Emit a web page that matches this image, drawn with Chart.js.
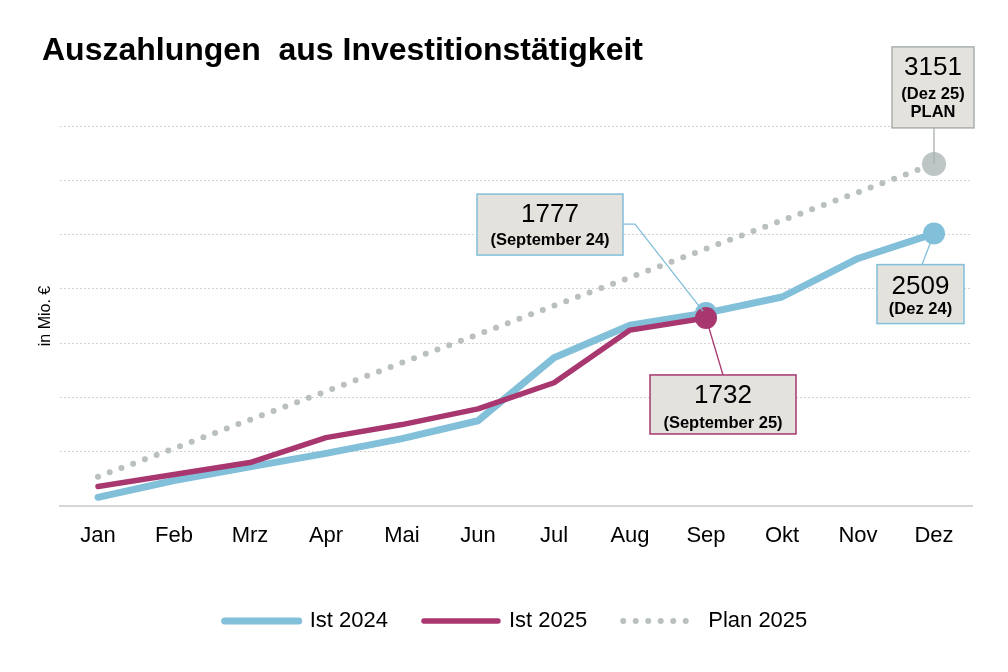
<!DOCTYPE html>
<html lang="de">
<head>
<meta charset="UTF-8">
<title>Auszahlungen aus Investitionstätigkeit</title>
<script src="https://cdn.jsdelivr.net/npm/chart.js@4.4.1/dist/chart.umd.min.js"></script>
<style>
  html, body { margin: 0; padding: 0; background: #fff; }
</style>
</head>
<body>
<canvas id="chart" width="1008" height="672"></canvas>
<script>
// Werte in Mio. €
const months   = ['Jan', 'Feb', 'Mrz', 'Apr', 'Mai', 'Jun', 'Jul', 'Aug', 'Sep', 'Okt', 'Nov', 'Dez'];
const ist2024  = [80, 235, 360, 485, 620, 785, 1365, 1665, 1777, 1925, 2280, 2509];
const ist2025  = [180, 290, 400, 630, 750, 895, 1135, 1620, 1732, null, null, null];
const plan2025 = [270, 530, 795, 1055, 1320, 1580, 1845, 2105, 2370, 2630, 2890, 3151];
const seriesNames = ['Ist 2024', 'Ist 2025', 'Plan 2025'];

const FONT = '"Liberation Sans", Arial, sans-serif';
const BLUE = '#82bfd9';
const RED = '#a8376f';
const GREY = '#b9c0bf';
const BOXFILL = '#e4e2dd';

// nur die markierten Punkte bekommen einen Kreis
function markers(arr, idx, r) {
    return arr.map((v, i) => idx.includes(i) ? r : 0);
}

// Beschriftungskästen mit Hinweislinie
const callouts = {
    id: 'callouts',
    afterDatasetsDraw(chart) {
        const { ctx, scales: { x, y } } = chart;
        const items = [
            { i: 8, v: ist2024[8], color: BLUE, lines: [String(ist2024[8]), '(September 24)'],
              box: (px, py) => [px - 229, py - 119, 146, 61],
              lead: (b, px, py) => [[b[0] + b[2], b[1] + 30], [b[0] + b[2] + 12, b[1] + 30], [px - 3, py - 2]],
              ty: [21, 46] },
            { i: 8, v: ist2025[8], color: RED, lines: [String(ist2025[8]), '(September 25)'],
              box: (px, py) => [px - 56, py + 57, 146, 59],
              lead: (b, px, py) => [[px + 17, b[1]], [px, py]],
              ty: [21, 48] },
            { i: 11, v: ist2024[11], color: BLUE, lines: [String(ist2024[11]), '(Dez 24)'],
              box: (px, py) => [px - 57, py + 31, 87, 59],
              lead: (b, px, py) => [[px - 12, b[1]], [px, py]],
              ty: [22, 45] },
            { i: 11, v: plan2025[11], color: '#a9afae', lines: [String(plan2025[11]), '(Dez 25)', 'PLAN'],
              box: (px, py) => [px - 42, py - 117, 82, 81],
              lead: (b, px, py) => [[px, b[1] + b[3]], [px, py]],
              ty: [21, 48, 66] }
        ];
        ctx.save();
        items.forEach(it => {
            const px = x.getPixelForValue(it.i);
            const py = y.getPixelForValue(it.v);
            const b = it.box(px, py);
            // Linie
            ctx.strokeStyle = it.color;
            ctx.lineWidth = 1.3;
            ctx.beginPath();
            it.lead(b, px, py).forEach((p, k) => k ? ctx.lineTo(p[0], p[1]) : ctx.moveTo(p[0], p[1]));
            ctx.stroke();
            // Kasten
            ctx.fillStyle = BOXFILL;
            ctx.fillRect(b[0], b[1], b[2], b[3]);
            ctx.lineWidth = 1.5;
            ctx.strokeRect(b[0], b[1], b[2], b[3]);
            // Text
            ctx.fillStyle = '#000';
            ctx.textAlign = 'center';
            ctx.textBaseline = 'middle';
            it.lines.forEach((t, k) => {
                ctx.font = k === 0 ? '26px ' + FONT : 'bold 16.5px ' + FONT;
                ctx.fillText(t, b[0] + b[2] / 2, b[1] + it.ty[k]);
            });
        });
        ctx.restore();
    }
};

new Chart(document.getElementById('chart'), {
    type: 'line',
    data: {
        labels: months,
        datasets: [
            {
                label: seriesNames[0],
                data: ist2024,
                borderColor: BLUE,
                backgroundColor: BLUE,
                borderWidth: 7,
                borderCapStyle: 'round',
                borderJoinStyle: 'round',
                pointRadius: markers(ist2024, [8, 11], 11),
                pointBorderWidth: 0,
                order: 2
            },
            {
                label: seriesNames[1],
                data: ist2025,
                borderColor: RED,
                backgroundColor: RED,
                borderWidth: 5.5,
                borderCapStyle: 'round',
                borderJoinStyle: 'round',
                pointRadius: markers(ist2025, [8], 11),
                pointBorderWidth: 0,
                order: 1
            },
            {
                label: seriesNames[2],
                data: plan2025,
                borderColor: GREY,
                backgroundColor: '#bec5c5',
                borderWidth: 6,
                borderDash: [0, 12.5],
                borderCapStyle: 'round',
                pointRadius: markers(plan2025, [11], 12),
                pointBorderWidth: 0,
                order: 3
            }
        ]
    },
    options: {
        responsive: false,
        animation: false,
        events: [],
        layout: { padding: { left: 42, right: 36, top: 0, bottom: 30 } },
        plugins: {
            title: {
                display: true,
                text: 'Auszahlungen  aus Investitionstätigkeit',
                align: 'start',
                color: '#000',
                font: { family: FONT, size: 32, weight: 'bold' },
                padding: { top: 31.5, bottom: 56.1 }
            },
            legend: {
                position: 'bottom',
                fullSize: false,
                labels: {
                    usePointStyle: true,
                    pointStyle: 'line',
                    pointStyleWidth: 74,
                    boxWidth: 74,
                    padding: 36,
                    color: '#000',
                    font: { family: FONT, size: 22 },
                    sort: (a, b) => a.datasetIndex - b.datasetIndex,
                    generateLabels: chart => {
                        const items = Chart.defaults.plugins.legend.labels.generateLabels(chart);
                        items.forEach(it => {
                            const ds = chart.data.datasets[it.datasetIndex];
                            it.lineWidth = ds.borderWidth;
                            it.strokeStyle = ds.borderColor;
                            it.lineDash = ds.borderDash || [];
                            it.lineCap = 'round';
                        });
                        return items;
                    }
                }
            },
            tooltip: { enabled: false }
        },
        scales: {
            x: {
                offset: true,
                grid: { display: false },
                border: { display: true, color: '#d6d6d6', width: 2 },
                ticks: { color: '#000', padding: 9, font: { family: FONT, size: 22 } },
                afterFit: s => { s.height = 68; }
            },
            y: {
                min: 0,
                max: 3500,
                ticks: { display: false, stepSize: 500 },
                grid: {
                    drawTicks: false,
                    color: c => c.tick.value === 0 ? 'rgba(0,0,0,0)' : '#d2d2d2',
                    lineWidth: 1
                },
                border: { display: false, dash: [2, 2] },
                title: {
                    display: true,
                    text: 'in Mio. €',
                    color: '#000',
                    font: { family: FONT, size: 16 },
                    padding: { top: -6.5, bottom: 0 }
                },
                afterFit: s => { s.width = 18; }
            }
        }
    },
    plugins: [callouts]
});
</script>
</body>
</html>
